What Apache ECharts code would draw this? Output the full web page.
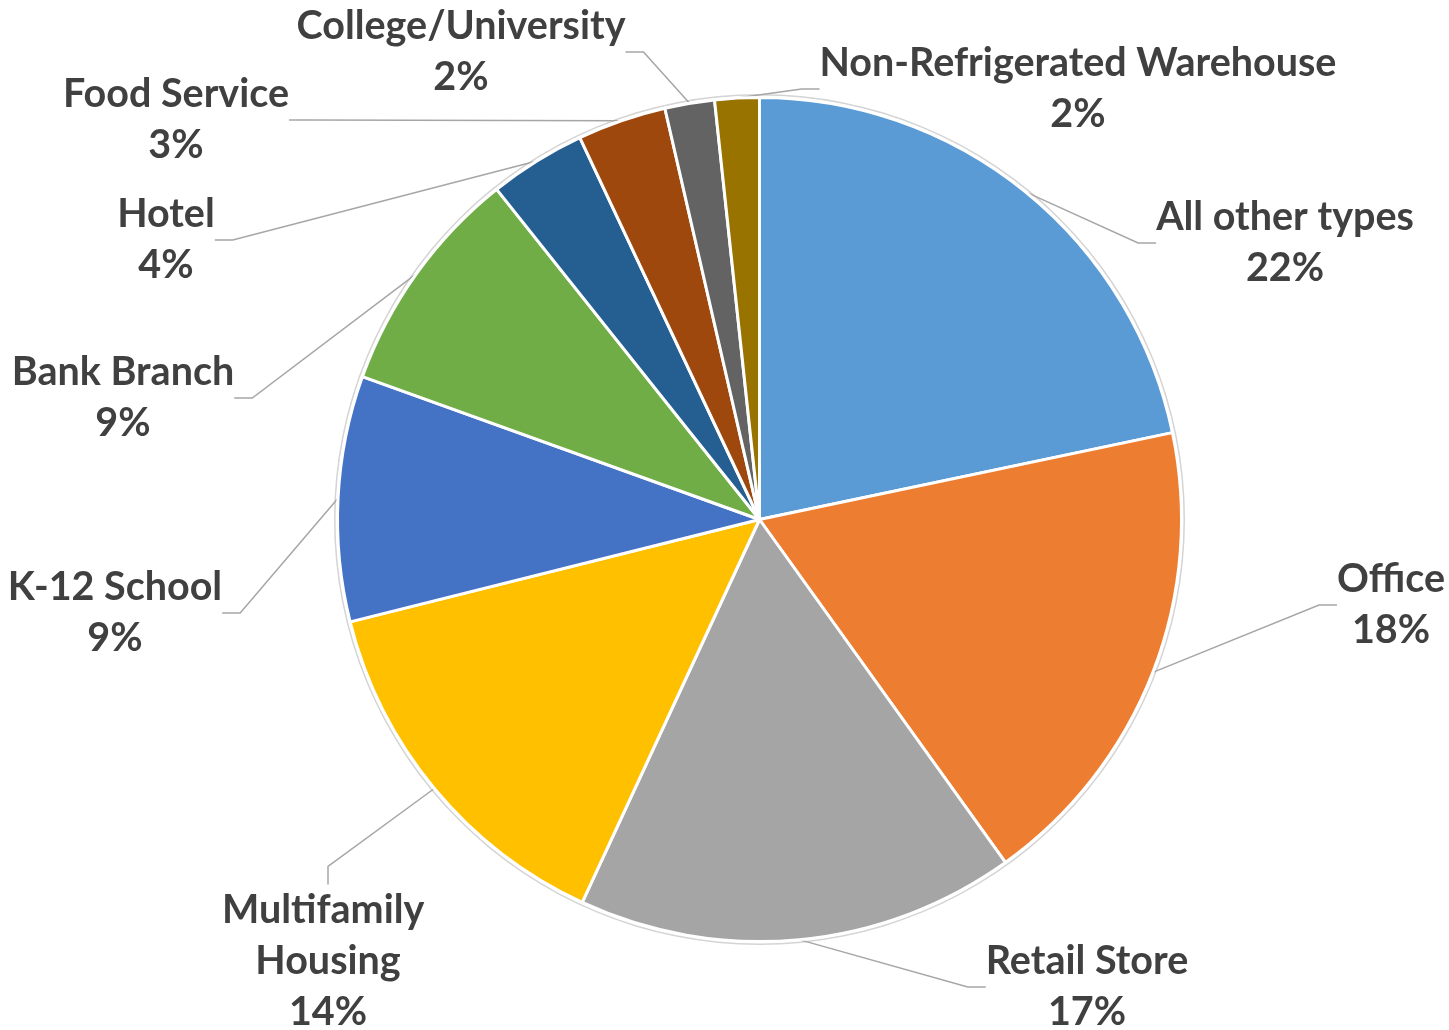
<!DOCTYPE html>
<html>
<head>
<meta charset="utf-8">
<script src="https://cdn.jsdelivr.net/npm/echarts@6/dist/echarts.min.js"></script>
<style>
html,body{margin:0;padding:0;background:#fff;}
#chart{width:1449px;height:1030px;}
</style>
</head>
<body>
<div id="chart"></div>
<script>
const categories = ['All other types','Office','Retail Store','Multifamily Housing','K-12 School','Bank Branch','Hotel','Food Service','College/University','Non-Refrigerated Warehouse'];
const values = [21.7, 18.4, 16.8, 14.2, 9.4, 8.8, 3.7, 3.4, 1.9, 1.7];
const colors = ['#5B9BD5','#ED7D31','#A5A5A5','#FFC000','#4472C4','#70AD47','#255E91','#9E480E','#636363','#997300'];
// label block centres (manually placed data labels, as in the source)
const labelPos = [[1285,243],[1391,605],[1087,987],[328,961],[115,613],[123,398],[166,240],[176,120],[461,52],[1078,89]];

const chart = echarts.init(document.getElementById('chart'));
const data = categories.map((c, i) => {
  const item = { name: c, value: values[i], itemStyle: { color: colors[i] } };
  if (c === 'Multifamily Housing') item.label = { width: 240, overflow: 'break' };
  return item;
});
chart.setOption({
  animation: false,
  series: [{
    type: 'pie',
    silent: true,
    center: [759.5, 519.5],
    radius: [424, 425.5],
    z: 1,
    label: { show: false },
    labelLine: { show: false },
    data: [{ value: 1, itemStyle: { color: '#D4D4D4' } }]
  }, {
    type: 'pie',
    z: 2,
    center: [759.5, 519.5],
    radius: 422,
    startAngle: 90,
    clockwise: true,
    avoidLabelOverlap: false,
    data: data,
    itemStyle: { borderColor: '#ffffff', borderWidth: 3 },
    label: {
      show: true,
      position: 'outside',
      formatter: p => p.name + '\n' + Math.round(p.percent) + '%',
      fontFamily: 'Lato',
      fontWeight: 'bold',
      fontSize: 39.5,
      lineHeight: 51,
      color: '#404040',
      align: 'center'
    },
    labelLine: {
      show: true,
      length: 20,
      length2: 18,
      lineStyle: { color: '#A6A6A6', width: 1.5 }
    },
    labelLayout: function (params) {
      const p = labelPos[params.dataIndex];
      return { x: p[0], y: p[1], align: 'center', verticalAlign: 'middle' };
    }
  }]
});
</script>
</body>
</html>
